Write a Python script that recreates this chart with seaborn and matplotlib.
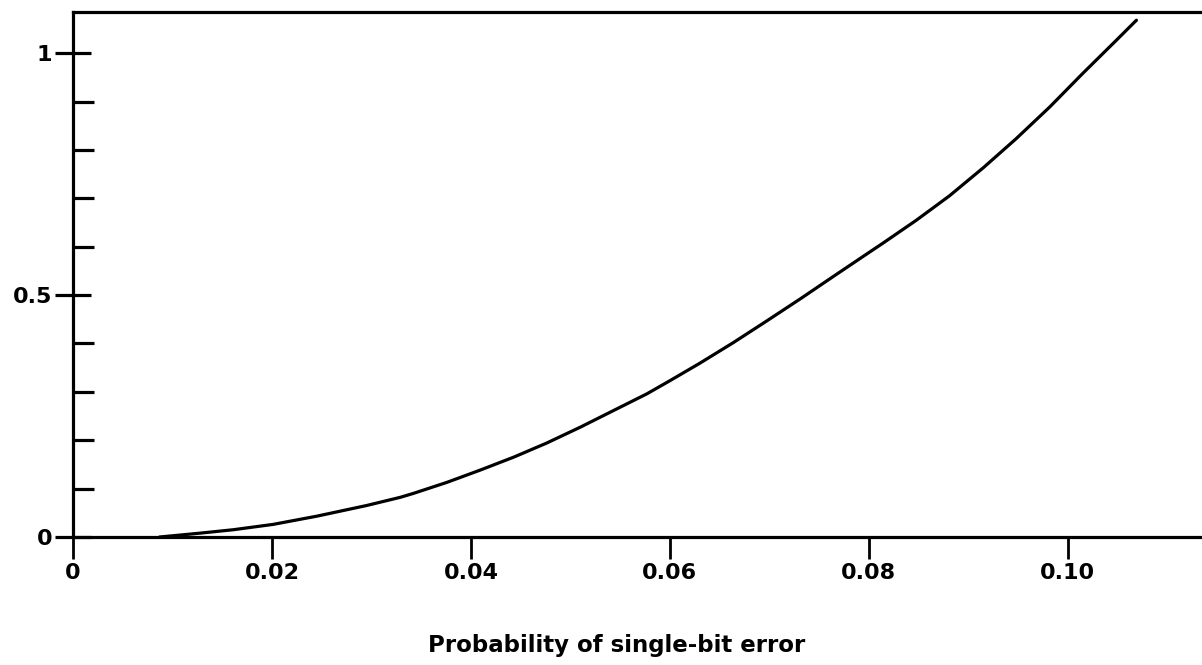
import matplotlib
matplotlib.use("Agg")
import matplotlib.pyplot as plt
from matplotlib.ticker import MultipleLocator, FixedLocator
import seaborn as sns
import pandas as pd

# Curve: probability of single-bit error vs. plotted quantity
bit_error_prob = [0.0087, 0.0128, 0.0161, 0.0201, 0.0245, 0.0295, 0.0329,
                  0.0342, 0.0376, 0.0409, 0.0443, 0.0476, 0.0510, 0.0543,
                  0.0577, 0.0600, 0.0630, 0.0664, 0.0697, 0.0731, 0.0764,
                  0.0798, 0.0814, 0.0848, 0.0881, 0.0915, 0.0948, 0.0982,
                  0.1015, 0.1049, 0.1069]
curve_value = [0.000, 0.008, 0.015, 0.026, 0.043, 0.065, 0.082,
               0.090, 0.113, 0.138, 0.165, 0.194, 0.227, 0.261,
               0.296, 0.323, 0.359, 0.402, 0.446, 0.492, 0.538,
               0.585, 0.607, 0.655, 0.705, 0.763, 0.823, 0.889,
               0.958, 1.027, 1.068]

x_ticks = [0.0, 0.02, 0.04, 0.06, 0.08, 0.10]
x_tick_labels = ["0", "0.02", "0.04", "0.06", "0.08", "0.10"]
y_ticks = [0.0, 0.5, 1.0]
y_tick_labels = ["0", "0.5", "1"]
x_label = "Probability of single-bit error"

sns.set_theme(style="white")
plt.rcParams["font.family"] = ["DejaVu Sans"]
plt.rcParams["font.weight"] = "bold"

fig = plt.figure(figsize=(12.02, 6.65), dpi=100)
ax = fig.add_axes([73 / 1202, 1 - 537 / 665, 1 - 73 / 1202 + 0.01, (537 - 12) / 665])

df = pd.DataFrame({"p": bit_error_prob, "v": curve_value})
sns.lineplot(data=df, x="p", y="v", ax=ax, color="black", linewidth=2.3,
             sort=True, solid_joinstyle="round", solid_capstyle="round")

ax.set_xlim(0, 0.1147)
ax.set_ylim(0, 1.085)

for side in ["left", "bottom", "top"]:
    ax.spines[side].set_visible(True)
    ax.spines[side].set_color("black")
    ax.spines[side].set_linewidth(2.3)
ax.spines["right"].set_visible(False)

ax.xaxis.set_major_locator(FixedLocator(x_ticks))
ax.set_xticklabels(x_tick_labels)
ax.yaxis.set_major_locator(FixedLocator(y_ticks))
ax.set_yticklabels(y_tick_labels)
ax.yaxis.set_minor_locator(MultipleLocator(0.1))

ax.tick_params(axis="x", which="major", direction="out", length=16, width=2.0,
               color="black", labelsize=16, pad=3, bottom=True, top=False)
ax.tick_params(axis="y", which="major", direction="inout", length=26, width=2.3,
               color="black", labelsize=16, pad=2, left=True, right=False)
ax.tick_params(axis="y", which="minor", direction="in", length=15, width=2.3,
               color="black", left=True, right=False)
for lbl in ax.get_xticklabels() + ax.get_yticklabels():
    lbl.set_fontweight("bold")
    lbl.set_color("black")

ax.set_xlabel(x_label, fontsize=16.5, fontweight="bold", color="black")
ax.set_ylabel("")
ax.xaxis.set_label_coords((611 - 73) / (1202 - 73), (537 - 634) / 525)

fig.savefig("out.png", dpi=100, facecolor="white")
